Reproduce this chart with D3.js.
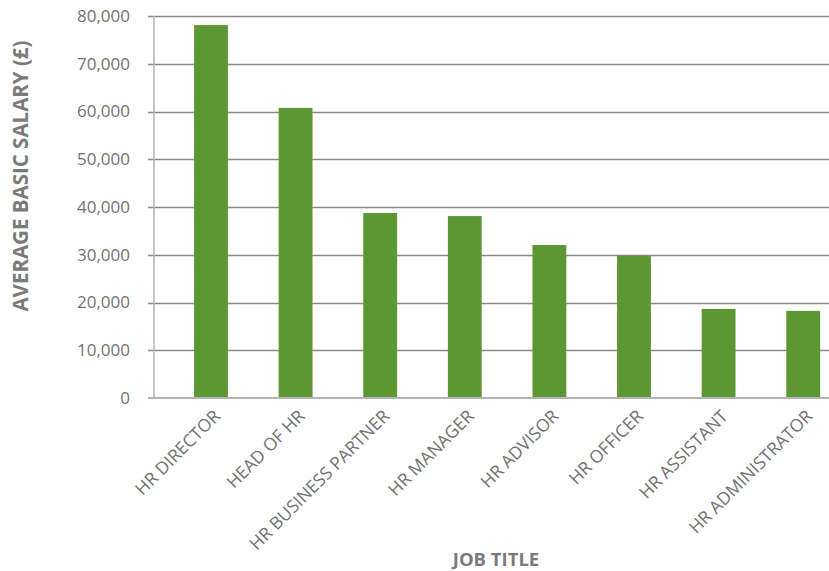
<!DOCTYPE html>
<html>
<head>
<meta charset="utf-8">
<script src="https://cdn.jsdelivr.net/npm/d3@7"></script>
<style>
  body { margin: 0; background: #fff; }
  svg { display: block; font-family: 'Open Sans', 'Noto Sans', sans-serif; }
</style>
</head>
<body>
<div id="chart"></div>
<script>
// ── HR salaries by job title ─────────────────
const jobTitles = ['HR DIRECTOR', 'HEAD OF HR', 'HR BUSINESS PARTNER', 'HR MANAGER',
    'HR ADVISOR', 'HR OFFICER', 'HR ASSISTANT', 'HR ADMINISTRATOR'];
const salaries = [78100, 60750, 38750, 38100, 32050, 29750, 18650, 18250];
const yTicks = [0, 10000, 20000, 30000, 40000, 50000, 60000, 70000, 80000];

const width = 829, height = 571;
const axisX = 154, plotTop = 16, plotBottom = 398;

const svg = d3.select('#chart').append('svg')
    .attr('width', width)
    .attr('height', height);

const x = d3.scaleBand()
    .domain(jobTitles)
    .range([168.7, 845.5])
    .paddingInner(0.6)
    .paddingOuter(0.3);

const y = d3.scaleLinear()
    .domain([0, 80000])
    .range([plotBottom, plotTop]);

// Gridlines + tick marks
svg.append('g')
    .selectAll('line')
    .data(yTicks.filter(d => d > 0))
    .join('line')
    .attr('x1', axisX - 6)
    .attr('x2', width)
    .attr('y1', d => Math.round(y(d)) + 0.5)
    .attr('y2', d => Math.round(y(d)) + 0.5)
    .attr('stroke', '#8a8a8a')
    .attr('stroke-width', 1.3);

// Y labels
svg.append('g')
    .selectAll('text')
    .data(yTicks)
    .join('text')
    .attr('x', 130)
    .attr('y', d => y(d))
    .attr('dy', '0.35em')
    .attr('text-anchor', 'end')
    .attr('font-size', '17px')
    .attr('fill', '#727272')
    .text(d => d3.format(',')(d));

// Bars
svg.append('g')
    .selectAll('rect')
    .data(jobTitles)
    .join('rect')
    .attr('x', d => x(d))
    .attr('width', x.bandwidth())
    .attr('y', (d, i) => y(salaries[i]))
    .attr('height', (d, i) => y(0) - y(salaries[i]))
    .attr('fill', '#5c9733');

// Axis lines
svg.append('line')
    .attr('x1', axisX).attr('x2', axisX)
    .attr('y1', plotTop).attr('y2', plotBottom)
    .attr('stroke', '#b3b3b3')
    .attr('stroke-width', 1.5);

svg.append('line')
    .attr('x1', axisX - 6).attr('x2', width)
    .attr('y1', plotBottom).attr('y2', plotBottom)
    .attr('stroke', '#b3b3b3')
    .attr('stroke-width', 2);

// X labels
svg.append('g')
    .selectAll('text')
    .data(jobTitles)
    .join('text')
    .attr('transform', d => `translate(${x(d) + x.bandwidth() / 2 + 6},${plotBottom + 15}) rotate(-45)`)
    .attr('text-anchor', 'end')
    .attr('dy', '0.35em')
    .attr('font-size', '17.5px')
    .attr('fill', '#727272')
    .text(d => d);

// Axis titles
svg.append('text')
    .attr('transform', `translate(28,176) rotate(-90)`)
    .attr('text-anchor', 'middle')
    .attr('font-size', '20.5px')
    .attr('font-weight', 'bold')
    .attr('fill', '#7a7a7a')
    .text('AVERAGE BASIC SALARY (£)');

svg.append('text')
    .attr('x', 496)
    .attr('y', 566)
    .attr('text-anchor', 'middle')
    .attr('font-size', '18.5px')
    .attr('font-weight', 'bold')
    .attr('fill', '#7a7a7a')
    .text('JOB TITLE');
</script>
</body>
</html>
